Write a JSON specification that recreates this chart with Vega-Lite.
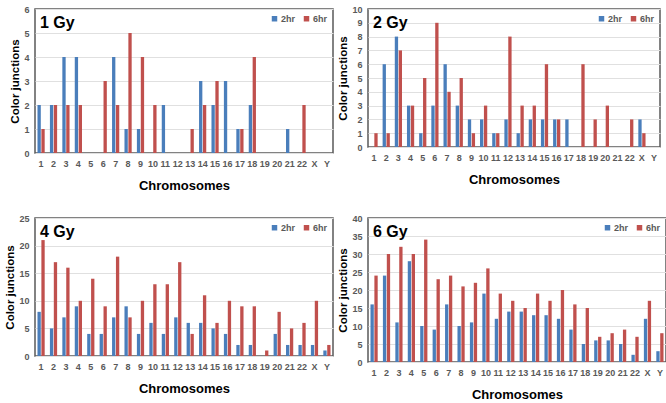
{
  "$schema": "https://vega.github.io/schema/vega-lite/v6.json",
  "padding": {"left": 4, "top": 4, "right": 4, "bottom": 4},
  "background": "white",
  "config": {
    "font": "Liberation Sans",
    "view": {"stroke": "#5a5a5a", "strokeWidth": 1.5},
    "axis": {"labelFont": "Liberation Sans", "labelColor": "#595959", "labelFontWeight": "bold", "labelFontSize": 9, "titleFont": "Liberation Sans", "titleFontWeight": "bold", "titleColor": "#000000", "ticks": false, "domain": false, "gridColor": "#e0e0e0"},
    "axisX": {"grid": false, "labelAngle": 0, "labelPadding": 6, "titleFontSize": 13, "titlePadding": 11},
    "axisY": {"titleFontSize": 11.5, "labelPadding": 6, "titlePadding": 3},
    "legend": {"labelFont": "Liberation Sans", "labelColor": "#595959", "labelFontWeight": "bold", "labelFontSize": 9, "symbolType": "square", "symbolSize": 30, "direction": "horizontal", "orient": "top-right", "offset": 5, "columnPadding": 6, "symbolOffset": 0, "labelOffset": 2, "title": null},
    "title": {"font": "Liberation Sans", "fontSize": 16, "fontWeight": "bold", "color": "#000000", "anchor": "start", "frame": "group"}
  },
  "columns": 2,
  "spacing": {"row": 20, "column": 3},
  "resolve": {"scale": {"y": "independent", "x": "independent", "color": "independent"}, "legend": {"color": "independent"}},
  "datasets": {
    "g1": [
      {"chr":"1","time":"2hr","n":2},{"chr":"1","time":"6hr","n":1},
      {"chr":"2","time":"2hr","n":2},{"chr":"2","time":"6hr","n":2},
      {"chr":"3","time":"2hr","n":4},{"chr":"3","time":"6hr","n":2},
      {"chr":"4","time":"2hr","n":4},{"chr":"4","time":"6hr","n":2},
      {"chr":"5","time":"2hr","n":0},{"chr":"5","time":"6hr","n":0},
      {"chr":"6","time":"2hr","n":0},{"chr":"6","time":"6hr","n":3},
      {"chr":"7","time":"2hr","n":4},{"chr":"7","time":"6hr","n":2},
      {"chr":"8","time":"2hr","n":1},{"chr":"8","time":"6hr","n":5},
      {"chr":"9","time":"2hr","n":1},{"chr":"9","time":"6hr","n":4},
      {"chr":"10","time":"2hr","n":0},{"chr":"10","time":"6hr","n":2},
      {"chr":"11","time":"2hr","n":2},{"chr":"11","time":"6hr","n":0},
      {"chr":"12","time":"2hr","n":0},{"chr":"12","time":"6hr","n":0},
      {"chr":"13","time":"2hr","n":0},{"chr":"13","time":"6hr","n":1},
      {"chr":"14","time":"2hr","n":3},{"chr":"14","time":"6hr","n":2},
      {"chr":"15","time":"2hr","n":2},{"chr":"15","time":"6hr","n":3},
      {"chr":"16","time":"2hr","n":3},{"chr":"16","time":"6hr","n":0},
      {"chr":"17","time":"2hr","n":1},{"chr":"17","time":"6hr","n":1},
      {"chr":"18","time":"2hr","n":2},{"chr":"18","time":"6hr","n":4},
      {"chr":"19","time":"2hr","n":0},{"chr":"19","time":"6hr","n":0},
      {"chr":"20","time":"2hr","n":0},{"chr":"20","time":"6hr","n":0},
      {"chr":"21","time":"2hr","n":1},{"chr":"21","time":"6hr","n":0},
      {"chr":"22","time":"2hr","n":0},{"chr":"22","time":"6hr","n":2},
      {"chr":"X","time":"2hr","n":0},{"chr":"X","time":"6hr","n":0},
      {"chr":"Y","time":"2hr","n":0},{"chr":"Y","time":"6hr","n":0}
    ],
    "g2": [
      {"chr":"1","time":"2hr","n":0},{"chr":"1","time":"6hr","n":1},
      {"chr":"2","time":"2hr","n":6},{"chr":"2","time":"6hr","n":1},
      {"chr":"3","time":"2hr","n":8},{"chr":"3","time":"6hr","n":7},
      {"chr":"4","time":"2hr","n":3},{"chr":"4","time":"6hr","n":3},
      {"chr":"5","time":"2hr","n":1},{"chr":"5","time":"6hr","n":5},
      {"chr":"6","time":"2hr","n":3},{"chr":"6","time":"6hr","n":9},
      {"chr":"7","time":"2hr","n":6},{"chr":"7","time":"6hr","n":4},
      {"chr":"8","time":"2hr","n":3},{"chr":"8","time":"6hr","n":5},
      {"chr":"9","time":"2hr","n":2},{"chr":"9","time":"6hr","n":1},
      {"chr":"10","time":"2hr","n":2},{"chr":"10","time":"6hr","n":3},
      {"chr":"11","time":"2hr","n":1},{"chr":"11","time":"6hr","n":1},
      {"chr":"12","time":"2hr","n":2},{"chr":"12","time":"6hr","n":8},
      {"chr":"13","time":"2hr","n":1},{"chr":"13","time":"6hr","n":3},
      {"chr":"14","time":"2hr","n":2},{"chr":"14","time":"6hr","n":3},
      {"chr":"15","time":"2hr","n":2},{"chr":"15","time":"6hr","n":6},
      {"chr":"16","time":"2hr","n":2},{"chr":"16","time":"6hr","n":2},
      {"chr":"17","time":"2hr","n":2},{"chr":"17","time":"6hr","n":0},
      {"chr":"18","time":"2hr","n":0},{"chr":"18","time":"6hr","n":6},
      {"chr":"19","time":"2hr","n":0},{"chr":"19","time":"6hr","n":2},
      {"chr":"20","time":"2hr","n":0},{"chr":"20","time":"6hr","n":3},
      {"chr":"21","time":"2hr","n":0},{"chr":"21","time":"6hr","n":0},
      {"chr":"22","time":"2hr","n":0},{"chr":"22","time":"6hr","n":2},
      {"chr":"X","time":"2hr","n":2},{"chr":"X","time":"6hr","n":1},
      {"chr":"Y","time":"2hr","n":0},{"chr":"Y","time":"6hr","n":0}
    ],
    "g4": [
      {"chr":"1","time":"2hr","n":8},{"chr":"1","time":"6hr","n":21},
      {"chr":"2","time":"2hr","n":5},{"chr":"2","time":"6hr","n":17},
      {"chr":"3","time":"2hr","n":7},{"chr":"3","time":"6hr","n":16},
      {"chr":"4","time":"2hr","n":9},{"chr":"4","time":"6hr","n":10},
      {"chr":"5","time":"2hr","n":4},{"chr":"5","time":"6hr","n":14},
      {"chr":"6","time":"2hr","n":4},{"chr":"6","time":"6hr","n":9},
      {"chr":"7","time":"2hr","n":7},{"chr":"7","time":"6hr","n":18},
      {"chr":"8","time":"2hr","n":9},{"chr":"8","time":"6hr","n":7},
      {"chr":"9","time":"2hr","n":4},{"chr":"9","time":"6hr","n":10},
      {"chr":"10","time":"2hr","n":6},{"chr":"10","time":"6hr","n":13},
      {"chr":"11","time":"2hr","n":4},{"chr":"11","time":"6hr","n":13},
      {"chr":"12","time":"2hr","n":7},{"chr":"12","time":"6hr","n":17},
      {"chr":"13","time":"2hr","n":6},{"chr":"13","time":"6hr","n":4},
      {"chr":"14","time":"2hr","n":6},{"chr":"14","time":"6hr","n":11},
      {"chr":"15","time":"2hr","n":5},{"chr":"15","time":"6hr","n":6},
      {"chr":"16","time":"2hr","n":4},{"chr":"16","time":"6hr","n":10},
      {"chr":"17","time":"2hr","n":2},{"chr":"17","time":"6hr","n":9},
      {"chr":"18","time":"2hr","n":2},{"chr":"18","time":"6hr","n":9},
      {"chr":"19","time":"2hr","n":0},{"chr":"19","time":"6hr","n":1},
      {"chr":"20","time":"2hr","n":4},{"chr":"20","time":"6hr","n":8},
      {"chr":"21","time":"2hr","n":2},{"chr":"21","time":"6hr","n":5},
      {"chr":"22","time":"2hr","n":2},{"chr":"22","time":"6hr","n":6},
      {"chr":"X","time":"2hr","n":2},{"chr":"X","time":"6hr","n":10},
      {"chr":"Y","time":"2hr","n":1},{"chr":"Y","time":"6hr","n":2}
    ],
    "g6": [
      {"chr":"1","time":"2hr","n":16},{"chr":"1","time":"6hr","n":24},
      {"chr":"2","time":"2hr","n":24},{"chr":"2","time":"6hr","n":30},
      {"chr":"3","time":"2hr","n":11},{"chr":"3","time":"6hr","n":32},
      {"chr":"4","time":"2hr","n":28},{"chr":"4","time":"6hr","n":30},
      {"chr":"5","time":"2hr","n":10},{"chr":"5","time":"6hr","n":34},
      {"chr":"6","time":"2hr","n":9},{"chr":"6","time":"6hr","n":23},
      {"chr":"7","time":"2hr","n":16},{"chr":"7","time":"6hr","n":24},
      {"chr":"8","time":"2hr","n":10},{"chr":"8","time":"6hr","n":21},
      {"chr":"9","time":"2hr","n":11},{"chr":"9","time":"6hr","n":22},
      {"chr":"10","time":"2hr","n":19},{"chr":"10","time":"6hr","n":26},
      {"chr":"11","time":"2hr","n":12},{"chr":"11","time":"6hr","n":19},
      {"chr":"12","time":"2hr","n":14},{"chr":"12","time":"6hr","n":17},
      {"chr":"13","time":"2hr","n":14},{"chr":"13","time":"6hr","n":15},
      {"chr":"14","time":"2hr","n":13},{"chr":"14","time":"6hr","n":19},
      {"chr":"15","time":"2hr","n":13},{"chr":"15","time":"6hr","n":17},
      {"chr":"16","time":"2hr","n":12},{"chr":"16","time":"6hr","n":20},
      {"chr":"17","time":"2hr","n":9},{"chr":"17","time":"6hr","n":16},
      {"chr":"18","time":"2hr","n":5},{"chr":"18","time":"6hr","n":15},
      {"chr":"19","time":"2hr","n":6},{"chr":"19","time":"6hr","n":7},
      {"chr":"20","time":"2hr","n":6},{"chr":"20","time":"6hr","n":8},
      {"chr":"21","time":"2hr","n":5},{"chr":"21","time":"6hr","n":9},
      {"chr":"22","time":"2hr","n":2},{"chr":"22","time":"6hr","n":7},
      {"chr":"X","time":"2hr","n":12},{"chr":"X","time":"6hr","n":17},
      {"chr":"Y","time":"2hr","n":3},{"chr":"Y","time":"6hr","n":8}
    ]
  },
  "concat": [
    {
      "width": 298, "height": 144,
      "title": {"text": "1 Gy", "offset": -26, "dx": 5},
      "data": {"name": "g1"},
      "mark": {"type": "bar"},
      "encoding": {
        "x": {"field": "chr", "type": "nominal", "title": "Chromosomes", "sort": ["1","2","3","4","5","6","7","8","9","10","11","12","13","14","15","16","17","18","19","20","21","22","X","Y"], "scale": {"paddingInner": 0.42, "paddingOuter": 0.2}},
        "xOffset": {"field": "time", "type": "nominal", "sort": ["2hr","6hr"], "scale": {"paddingInner": 0.15}},
        "y": {"field": "n", "type": "quantitative", "title": "Color junctions", "scale": {"domain": [0, 6], "nice": false}, "axis": {"values": [0,1,2,3,4,5,6]}},
        "color": {"field": "time", "type": "nominal", "scale": {"domain": ["2hr","6hr"], "range": ["#4a7ebb","#c0504d"]}}
      }
    },
    {
      "width": 292, "height": 138,
      "title": {"text": "2 Gy", "offset": -26, "dx": 5},
      "data": {"name": "g2"},
      "mark": {"type": "bar"},
      "encoding": {
        "x": {"field": "chr", "type": "nominal", "title": "Chromosomes", "sort": ["1","2","3","4","5","6","7","8","9","10","11","12","13","14","15","16","17","18","19","20","21","22","X","Y"], "scale": {"paddingInner": 0.42, "paddingOuter": 0.2}},
        "xOffset": {"field": "time", "type": "nominal", "sort": ["2hr","6hr"], "scale": {"paddingInner": 0.15}},
        "y": {"field": "n", "type": "quantitative", "title": "Color junctions", "scale": {"domain": [0, 10], "nice": false}, "axis": {"values": [0,1,2,3,4,5,6,7,8,9,10]}},
        "color": {"field": "time", "type": "nominal", "scale": {"domain": ["2hr","6hr"], "range": ["#4a7ebb","#c0504d"]}}
      }
    },
    {
      "width": 298, "height": 138,
      "title": {"text": "4 Gy", "offset": -26, "dx": 5},
      "data": {"name": "g4"},
      "mark": {"type": "bar"},
      "encoding": {
        "x": {"field": "chr", "type": "nominal", "title": "Chromosomes", "sort": ["1","2","3","4","5","6","7","8","9","10","11","12","13","14","15","16","17","18","19","20","21","22","X","Y"], "scale": {"paddingInner": 0.42, "paddingOuter": 0.2}},
        "xOffset": {"field": "time", "type": "nominal", "sort": ["2hr","6hr"], "scale": {"paddingInner": 0.15}},
        "y": {"field": "n", "type": "quantitative", "title": "Color junctions", "scale": {"domain": [0, 25], "nice": false}, "axis": {"values": [0,5,10,15,20,25]}},
        "color": {"field": "time", "type": "nominal", "scale": {"domain": ["2hr","6hr"], "range": ["#4a7ebb","#c0504d"]}}
      }
    },
    {
      "width": 298, "height": 144,
      "title": {"text": "6 Gy", "offset": -26, "dx": 5},
      "data": {"name": "g6"},
      "mark": {"type": "bar"},
      "encoding": {
        "x": {"field": "chr", "type": "nominal", "title": "Chromosomes", "sort": ["1","2","3","4","5","6","7","8","9","10","11","12","13","14","15","16","17","18","19","20","21","22","X","Y"], "scale": {"paddingInner": 0.42, "paddingOuter": 0.2}},
        "xOffset": {"field": "time", "type": "nominal", "sort": ["2hr","6hr"], "scale": {"paddingInner": 0.15}},
        "y": {"field": "n", "type": "quantitative", "title": "Color junctions", "scale": {"domain": [0, 40], "nice": false}, "axis": {"values": [0,5,10,15,20,25,30,35,40]}},
        "color": {"field": "time", "type": "nominal", "scale": {"domain": ["2hr","6hr"], "range": ["#4a7ebb","#c0504d"]}}
      }
    }
  ]
}
